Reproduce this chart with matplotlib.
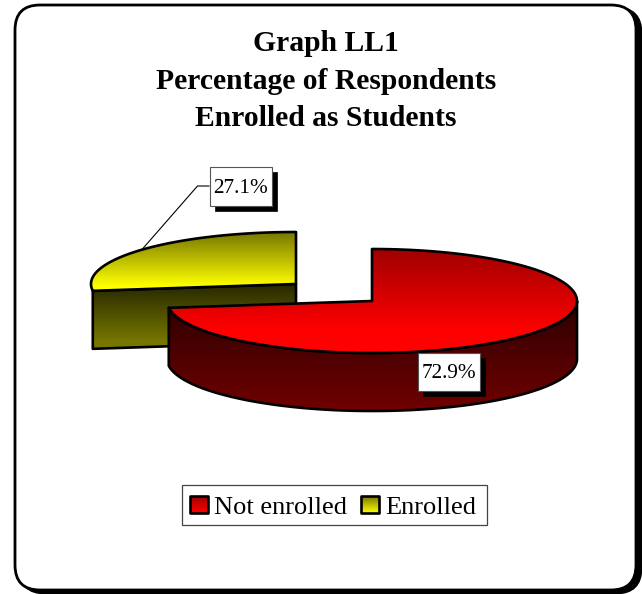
import numpy as np
import matplotlib
matplotlib.use("Agg")
import matplotlib.pyplot as plt
from matplotlib.colors import LinearSegmentedColormap
from matplotlib.patches import FancyBboxPatch, Rectangle, PathPatch
from matplotlib.path import Path

# Data
title_lines = ["Graph LL1", "Percentage of Respondents", "Enrolled as Students"]
categories = ["Not enrolled", "Enrolled"]
shares = [72.9, 27.1]
share_labels = ["72.9%", "27.1%"]

plt.rcParams["font.family"] = ["Liberation Serif", "DejaVu Serif"]

# Work in image pixels, y going down
W, H = 642, 594
fig = plt.figure(figsize=(W / 100, H / 100), dpi=100)
ax = fig.add_axes([0, 0, 1, 1])
ax.set_xlim(0, W)
ax.set_ylim(H, 0)
ax.axis("off")

# Pie geometry
RX, RY, DEPTH = 205, 52, 58
RED_C = (372, 301)
YEL_C = (296, 284)
LW = 1.9


def arc(center, a0, a1, n=120):
    # angles are degrees clockwise from 12 o'clock
    t = np.radians(np.linspace(a0, a1, n))
    return np.column_stack([center[0] + RX * np.sin(t), center[1] - RY * np.cos(t)])


def grad_fill(pts, top, bottom, y0, y1, z):
    # vertical gradient clipped to a closed polygon, held at the end colours past y0/y1
    path = Path(np.vstack([pts, pts[:1]]), closed=True)
    cmap = LinearSegmentedColormap.from_list("g", [top, bottom])
    ylo, yhi = pts[:, 1].min() - 2, pts[:, 1].max() + 2
    ramp = np.clip((np.linspace(ylo, yhi, 256) - y0) / (y1 - y0), 0, 1)
    im = ax.imshow(ramp.reshape(-1, 1), cmap=cmap, vmin=0, vmax=1, aspect="auto",
                   extent=[pts[:, 0].min() - 2, pts[:, 0].max() + 2, yhi, ylo], zorder=z,
                   interpolation="bilinear")
    patch = PathPatch(path, fc="none", ec="black", lw=LW, zorder=z + 0.1,
                      joinstyle="round")
    ax.add_patch(patch)
    im.set_clip_path(patch)


# Slice angles from the values
split = 360 * shares[0] / sum(shares)
mid_yel = split + (360 - split) / 2

# Frame with shadow
for dx, dy, fc, z in [(5, 3, "black", 0), (0, 0, "white", 1)]:
    ax.add_patch(FancyBboxPatch((15 + dx, 5 + dy), 621, 585,
                                boxstyle="round,pad=0,rounding_size=25",
                                fc=fc, ec="black", lw=2.0, zorder=z))

# Yellow slice (pulled out)
tip = arc(YEL_C, split, split, n=1)[0]
face = np.array([YEL_C, tip, tip + [0, DEPTH], [YEL_C[0], YEL_C[1] + DEPTH]], float)
grad_fill(face, "#2a2a00", "#777700", YEL_C[1] + 2, YEL_C[1] + DEPTH, 3)
yel_top = np.vstack([[YEL_C], arc(YEL_C, split, 360)])
grad_fill(yel_top, "#777700", "#ffff00", YEL_C[1] - RY, YEL_C[1] + 2, 4)

# Red slice
red_out = arc(RED_C, 90, split)
grad_fill(np.vstack([red_out, red_out[::-1] + [0, DEPTH]]),
          "#2c0000", "#700000", RED_C[1], RED_C[1] + RY + DEPTH, 5)
red_top = np.vstack([[RED_C], arc(RED_C, 0, split)])
grad_fill(red_top, "#a00000", "#ff0000", RED_C[1] - RY, RED_C[1] + 30, 6)

# Leader line for the pulled out slice
anchor = arc(YEL_C, mid_yel, mid_yel, n=1)[0]
ax.plot([anchor[0], 197.5, 209], [anchor[1], 186, 186], color="black", lw=0.8, zorder=2)


def label_box(x0, y0, x1, y1, text):
    ax.add_patch(Rectangle((x0 + 5, y0 + 5), x1 - x0, y1 - y0, fc="black", ec="black",
                           lw=0.5, zorder=8))
    ax.add_patch(Rectangle((x0, y0), x1 - x0, y1 - y0, fc="white", ec="#555555",
                           lw=0.8, zorder=9))
    ax.text((x0 + x1) / 2, y1 - 13, text, fontsize=15.3, ha="center",
            va="baseline", color="black", zorder=10)


label_box(418, 353, 480, 391, share_labels[0])
label_box(209.5, 167, 272, 206, share_labels[1])

# Title
for line, y in zip(title_lines, [51, 89, 126]):
    ax.text(326, y, line, fontsize=21.3, fontweight="bold", ha="center",
            va="baseline", color="black", zorder=10)

# Legend
ax.add_patch(Rectangle((182, 484.5), 304.5, 40.5, fc="white", ec="#444444", lw=0.9, zorder=8))
swatches = [("#a00000", "#ff0000"), ("#777700", "#ffff00")]
for name, (c0, c1), sx, tx in zip(categories, swatches, [190, 361], [214, 385]):
    box = np.array([[sx, 496], [sx + 18, 496], [sx + 18, 513], [sx, 513]], float)
    grad_fill(box, c0, c1, 496, 513, 9)
    ax.text(tx, 513.5, name, fontsize=19, ha="left", va="baseline", color="black", zorder=10)

ax.set_xlim(0, W)
ax.set_ylim(H, 0)
fig.savefig("out.png", dpi=100)
